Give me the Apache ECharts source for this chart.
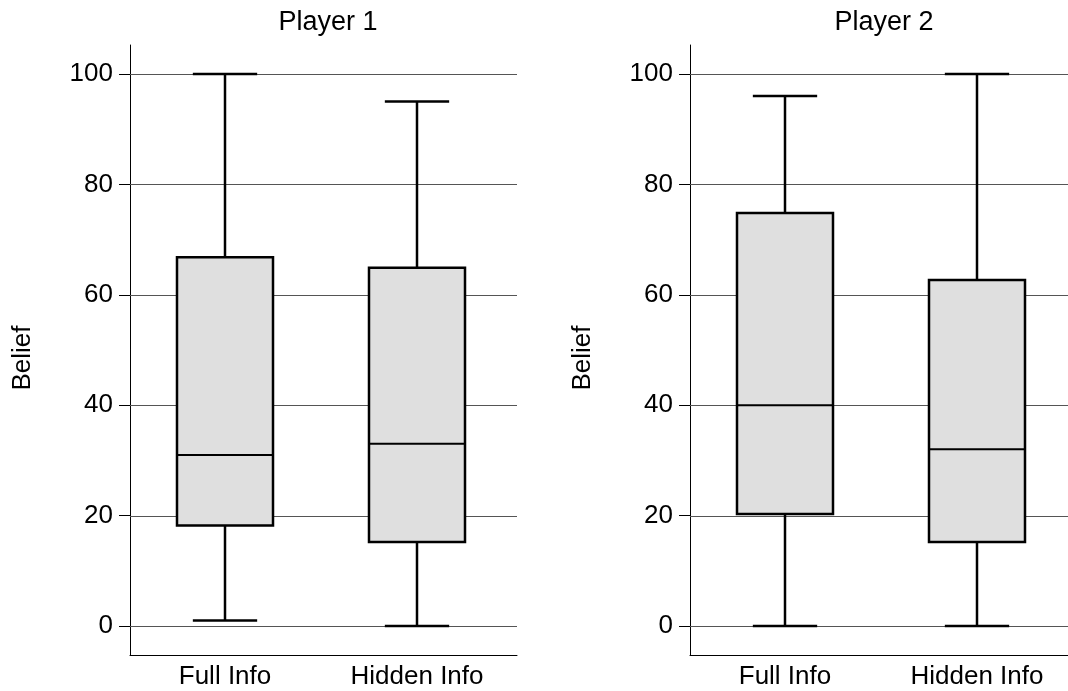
<!DOCTYPE html>
<html>
<head>
<meta charset="utf-8">
<script src="https://cdn.jsdelivr.net/npm/echarts@6/dist/echarts.min.js"></script>
<style>
html,body{margin:0;padding:0;background:#fff;}
#chart{width:1068px;height:691px;}
</style>
</head>
<body>
<div id="chart"></div>
<script>
// ---- data ----
const categories = ['Full Info', 'Hidden Info'];
const panelTitles = ['Player 1', 'Player 2'];
const yTicks = [0, 20, 40, 60, 80, 100];
// [min, Q1, median, Q3, max]
const player1Full   = [1, 18.2, 31, 66.8, 100];
const player1Hidden = [0, 15.2, 33, 64.9, 95];
const player2Full   = [0, 20.3, 40, 74.8, 96];
const player2Hidden = [0, 15.2, 32, 62.7, 100];

const FONT = 'Liberation Sans, Arial, sans-serif';

function boxData(full, hidden) {
  return [[1].concat(full), [2].concat(hidden)];
}

function renderBox(params, api) {
  const x = api.value(0);
  const vmin = api.coord([x, api.value(1)]);
  const q1 = api.coord([x, api.value(2)]);
  const med = api.coord([x, api.value(3)]);
  const q3 = api.coord([x, api.value(4)]);
  const vmax = api.coord([x, api.value(5)]);
  const unit = api.size([1, 0])[0];
  const bw = unit * 0.5;
  const cw = unit * 0.335;
  const cx = Math.round(vmin[0]);
  const st = { stroke: '#000', lineWidth: 2.5, fill: null };
  return {
    type: 'group',
    children: [
      { type: 'line', shape: { x1: cx, y1: vmin[1], x2: cx, y2: q1[1] }, style: st },
      { type: 'line', shape: { x1: cx, y1: q3[1], x2: cx, y2: vmax[1] }, style: st },
      { type: 'line', shape: { x1: cx - cw / 2, y1: vmin[1], x2: cx + cw / 2, y2: vmin[1] }, style: st },
      { type: 'line', shape: { x1: cx - cw / 2, y1: vmax[1], x2: cx + cw / 2, y2: vmax[1] }, style: st },
      { type: 'rect', shape: { x: cx - bw / 2, y: q3[1], width: bw, height: q1[1] - q3[1] },
        style: { fill: '#dfdfdf', stroke: '#000', lineWidth: 2.5 } },
      { type: 'line', shape: { x1: cx - bw / 2, y1: med[1], x2: cx + bw / 2, y2: med[1] },
        style: { stroke: '#000', lineWidth: 2 } }
    ]
  };
}

function renderGrid(params, api) {
  const cs = params.coordSys;
  const y = Math.round(api.coord([1, api.value(0)])[1]) + 0.5;
  return {
    type: 'line',
    shape: { x1: cs.x, y1: y, x2: cs.x + cs.width, y2: y },
    style: { stroke: '#555', lineWidth: 1 }
  };
}

const chart = echarts.init(document.getElementById('chart'), null, { renderer: 'canvas' });

const grids = [
  { left: 130, top: 45, width: 387, height: 610 },
  { left: 690, top: 45, width: 378, height: 610 }
];

function xAxis(i, maxV) {
  return {
    type: 'value', gridIndex: i, min: 0.5052, max: maxV,
    axisLine: { show: true, onZero: false, lineStyle: { color: '#000', width: 1 } },
    axisTick: { show: false },
    splitLine: { show: false },
    axisLabel: {
      customValues: [1, 2],
      formatter: function (v) { return categories[Math.round(v) - 1]; },
      color: '#000', fontSize: 26, fontFamily: FONT, margin: 9
    }
  };
}

function yAxis(i) {
  return {
    type: 'value', gridIndex: i, min: -5.25, max: 105.25,
    name: 'Belief', nameLocation: 'middle', nameRotate: 90, nameGap: 94,
    nameTextStyle: { color: '#000', fontSize: 26, fontFamily: FONT, padding: [0, 16, 0, 0] },
    axisLine: { show: true, onZero: false, lineStyle: { color: '#000', width: 1 } },
    axisTick: { show: true, customValues: yTicks, length: 11, lineStyle: { color: '#000', width: 1 } },
    splitLine: { show: false },
    axisLabel: { customValues: yTicks, color: '#000', fontSize: 26, fontFamily: FONT, margin: 17 }
  };
}

const option = {
  backgroundColor: '#fff',
  animation: false,
  title: [
    { text: panelTitles[0], left: 323, top: 4, textAlign: 'center',
      textStyle: { color: '#000', fontSize: 27, fontWeight: 'normal', fontFamily: FONT } },
    { text: panelTitles[1], left: 879, top: 4, textAlign: 'center',
      textStyle: { color: '#000', fontSize: 27, fontWeight: 'normal', fontFamily: FONT } }
  ],
  grid: grids,
  xAxis: [xAxis(0, 2.5208), xAxis(1, 2.474)],
  yAxis: [yAxis(0), yAxis(1)],
  series: [
    { type: 'custom', xAxisIndex: 0, yAxisIndex: 0, z: 1, silent: true,
      renderItem: renderGrid, data: yTicks.map(v => [v]), encode: { y: 0 } },
    { type: 'custom', xAxisIndex: 1, yAxisIndex: 1, z: 1, silent: true,
      renderItem: renderGrid, data: yTicks.map(v => [v]), encode: { y: 0 } },
    { type: 'custom', xAxisIndex: 0, yAxisIndex: 0, z: 3,
      renderItem: renderBox, data: boxData(player1Full, player1Hidden), encode: { x: 0, y: [1, 2, 3, 4, 5] } },
    { type: 'custom', xAxisIndex: 1, yAxisIndex: 1, z: 3,
      renderItem: renderBox, data: boxData(player2Full, player2Hidden), encode: { x: 0, y: [1, 2, 3, 4, 5] } }
  ]
};
chart.setOption(option);
</script>
</body>
</html>
